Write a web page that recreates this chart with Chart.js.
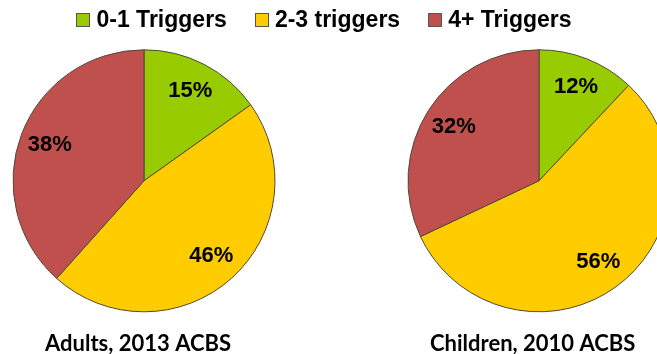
<!DOCTYPE html>
<html>
<head>
<meta charset="utf-8">
<title>Asthma triggers</title>
<script src="https://cdn.jsdelivr.net/npm/chart.js@4/dist/chart.umd.min.js"></script>
<style>
    body { margin: 0; background: #fff; overflow: hidden; }
    #wrap { position: relative; width: 657px; height: 354px; overflow: hidden; }
    #wrap canvas { position: absolute; top: 0; }
    #adultsChart { left: 0; }
    #childrenChart { left: 400px; }
    #legend {
        position: absolute; top: 6px; left: 0; width: 648px;
        display: flex; justify-content: center;
        font: bold 23px "Liberation Sans", Arial, sans-serif; color: #000;
    }
    #legend .item { display: flex; align-items: center; margin: 0 14px; }
    #legend .box { width: 12px; height: 12px; border: 1px solid #555; margin-right: 6px; }
</style>
</head>
<body>
<div id="wrap">
    <canvas id="adultsChart" width="280" height="357"></canvas>
    <canvas id="childrenChart" width="270" height="357"></canvas>
    <div id="legend"></div>
</div>
<script>
// Share of people by number of asthma triggers
const categories = ['0-1 Triggers', '2-3 triggers', '4+ Triggers'];
const adultsValues = [15, 46, 38];
const childrenValues = [12, 56, 32];
const sliceColors = ['#99CC00', '#FFCC00', '#C0504D'];

// Percent text inside each slice, pushed out towards the rim
const sliceLabels = {
    id: 'sliceLabels',
    afterDatasetsDraw(chart) {
        const ctx = chart.ctx;
        const meta = chart.getDatasetMeta(0);
        const values = chart.data.datasets[0].data;
        ctx.save();
        ctx.font = 'bold 22px "Liberation Sans", Arial, sans-serif';
        ctx.fillStyle = '#000';
        ctx.textAlign = 'center';
        ctx.textBaseline = 'middle';
        meta.data.forEach((arc, i) => {
            const p = arc.getProps(['x', 'y', 'startAngle', 'endAngle', 'outerRadius'], true);
            const mid = (p.startAngle + p.endAngle) / 2;
            const r = p.outerRadius * 0.77;
            ctx.fillText(values[i] + '%', p.x + Math.cos(mid) * r, p.y + Math.sin(mid) * r);
        });
        ctx.restore();
    }
};

// padding left/right places the caption start and keeps the pie centred where it should be
function makePie(id, values, caption, padLeft, padRight) {
    return new Chart(document.getElementById(id), {
        type: 'pie',
        data: {
            labels: categories,
            datasets: [{
                data: values,
                backgroundColor: sliceColors,
                borderColor: '#4f4a3a',
                borderWidth: 1,
                clip: false
            }]
        },
        options: {
            responsive: false,
            animation: false,
            radius: 131,
            layout: { padding: { top: 31, left: padLeft, right: padRight } },
            plugins: {
                legend: { display: false },
                tooltip: { enabled: false },
                title: {
                    display: true,
                    position: 'bottom',
                    align: 'start',
                    text: caption,
                    color: '#000',
                    font: { family: 'Lato', size: 22, weight: 'bold' },
                    padding: { top: 0, bottom: 0 }
                }
            }
        },
        plugins: [sliceLabels]
    });
}

const adultsChart = makePie('adultsChart', adultsValues, 'Adults, 2013 ACBS', 45, 37);
const childrenChart = makePie('childrenChart', childrenValues, 'Children, 2010 ACBS', 30, 22);

// Shared legend for both pies, built from the chart's own legend items
const legendEl = document.getElementById('legend');
const items = adultsChart.options.plugins.legend.labels.generateLabels(adultsChart);
items.forEach(item => {
    const el = document.createElement('span');
    el.className = 'item';
    const box = document.createElement('span');
    box.className = 'box';
    box.style.background = item.fillStyle;
    el.appendChild(box);
    el.appendChild(document.createTextNode(item.text));
    legendEl.appendChild(el);
});
</script>
</body>
</html>
